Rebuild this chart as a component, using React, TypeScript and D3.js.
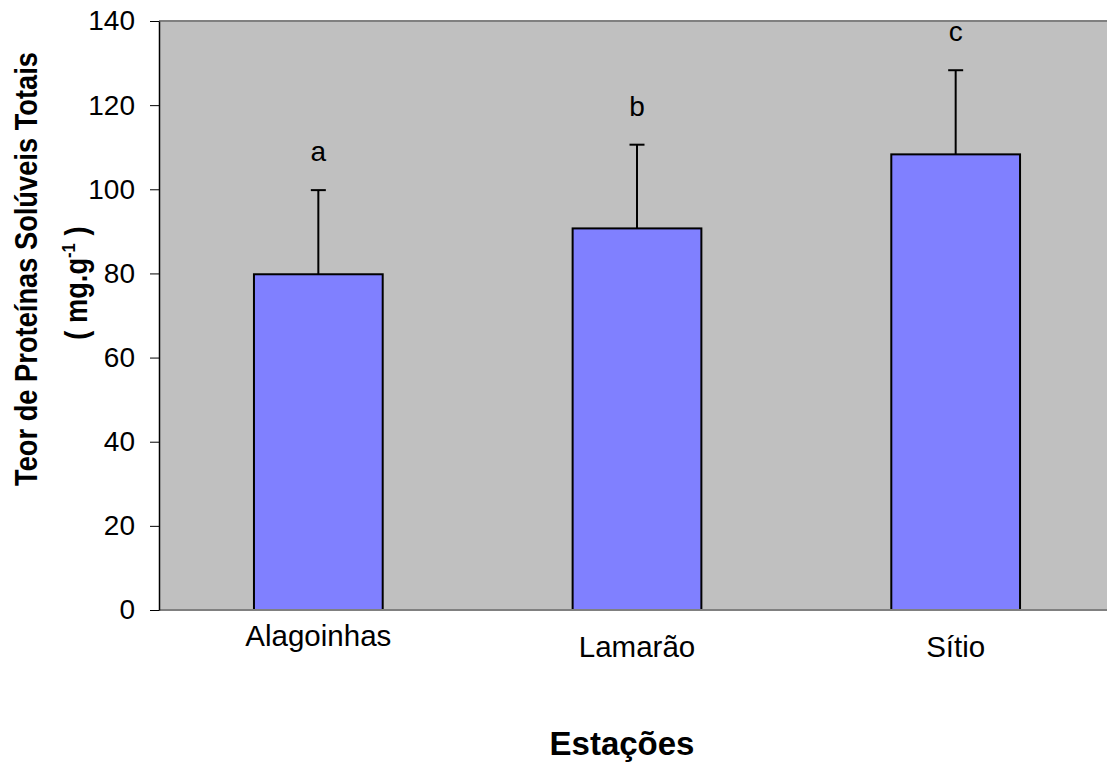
import React, { useRef, useEffect } from 'react';
import * as d3 from 'd3';

const stations = ['Alagoinhas', 'Lamarão', 'Sítio'];
const means = [79.8, 90.7, 108.3];
const errors = [20.0, 19.9, 20.0];
const letters = ['a', 'b', 'c'];
const yTicks = [0, 20, 40, 60, 80, 100, 120, 140];

const W = 1107;
const H = 763;
const FONT = 'Arial, "Liberation Sans", sans-serif';

const App: React.FC = () => {
    const ref = useRef<SVGSVGElement | null>(null);

    useEffect(() => {
        if (!ref.current) return;
        const svg = d3.select(ref.current);
        svg.selectAll('*').remove();

        const left = 159, top = 21, right = 1115, bottom = 610;

        const x = d3.scaleBand<string>().domain(stations).range([left, right]).paddingInner(0.596).paddingOuter(0.298);
        const band = d3.scaleBand<string>().domain(stations).range([left, right]);
        const y = d3.scaleLinear().domain([0, 140]).range([bottom, top]);

        // plot background
        svg.append('rect')
            .attr('x', left).attr('y', top)
            .attr('width', right - left).attr('height', bottom - top)
            .attr('fill', '#c0c0c0');
        svg.append('line')
            .attr('x1', left).attr('x2', right).attr('y1', top).attr('y2', top)
            .attr('stroke', '#808080').attr('stroke-width', 2);

        // bars
        svg.selectAll('rect.bar')
            .data(stations)
            .join('rect')
            .attr('class', 'bar')
            .attr('x', d => x(d) as number)
            .attr('y', (d, i) => y(means[i]))
            .attr('width', x.bandwidth())
            .attr('height', (d, i) => y(0) - y(means[i]))
            .attr('fill', '#8080ff')
            .attr('stroke', '#000')
            .attr('stroke-width', 2);

        // error bars
        const cx = (d: string) => (band(d) as number) + band.bandwidth() / 2;
        svg.selectAll('line.err')
            .data(stations)
            .join('line')
            .attr('class', 'err')
            .attr('x1', cx).attr('x2', cx)
            .attr('y1', (d, i) => y(means[i]))
            .attr('y2', (d, i) => y(means[i] + errors[i]))
            .attr('stroke', '#000').attr('stroke-width', 2);
        svg.selectAll('line.cap')
            .data(stations)
            .join('line')
            .attr('class', 'cap')
            .attr('x1', d => cx(d) - 7.5).attr('x2', d => cx(d) + 7.5)
            .attr('y1', (d, i) => y(means[i] + errors[i]))
            .attr('y2', (d, i) => y(means[i] + errors[i]))
            .attr('stroke', '#000').attr('stroke-width', 2);

        // letters
        svg.selectAll('text.letter')
            .data(stations)
            .join('text')
            .attr('class', 'letter')
            .attr('x', cx)
            .attr('y', (d, i) => y(means[i] + errors[i]) - 29)
            .attr('text-anchor', 'middle')
            .attr('font-family', FONT).attr('font-size', 28)
            .text((d, i) => letters[i]);

        // bottom axis line
        svg.append('line')
            .attr('x1', left).attr('x2', right).attr('y1', bottom).attr('y2', bottom)
            .attr('stroke', '#808080').attr('stroke-width', 2);

        // y axis
        const yAxis = svg.append('g')
            .attr('transform', `translate(${left},0)`)
            .call(d3.axisLeft(y).tickValues(yTicks).tickSize(9).tickPadding(15).tickSizeOuter(0));
        yAxis.select('.domain').attr('stroke', '#000').attr('stroke-width', 1.5);
        yAxis.selectAll('line').attr('stroke', '#000');
        yAxis.selectAll('text')
            .attr('font-family', FONT).attr('font-size', 28).attr('fill', '#000');

        // x labels (staggered like the original)
        svg.selectAll('text.cat')
            .data(stations)
            .join('text')
            .attr('class', 'cat')
            .attr('x', cx)
            .attr('y', (d, i) => (i === 0 ? 646 : 657))
            .attr('text-anchor', 'middle')
            .attr('font-family', FONT).attr('font-size', 29.5)
            .text(d => d);

        // x title
        svg.append('text')
            .attr('x', 622).attr('y', 755)
            .attr('text-anchor', 'middle')
            .attr('font-family', FONT).attr('font-size', 33).attr('font-weight', 'bold')
            .text('Estações');

        // y title (slightly condensed along its length, as in the original)
        const yt = svg.append('text')
            .attr('transform', 'translate(0,269) rotate(-90) scale(0.88,1)')
            .attr('text-anchor', 'middle')
            .attr('font-family', FONT).attr('font-size', 31).attr('font-weight', 'bold');
        yt.append('tspan').attr('x', 0).attr('y', 37).text('Teor de Proteínas Solúveis Totais');
        const l2 = yt.append('tspan').attr('x', -16).attr('y', 87).text('( mg.g');
        l2.append('tspan').attr('dy', -12).attr('font-size', 19).text('-1');
        l2.append('tspan').attr('dy', 12).text(' )');
    }, []);

    return <svg ref={ref} width={W} height={H} style={{ display: 'block', position: 'absolute', left: 0, top: 0 }} />;
};

export default App;
